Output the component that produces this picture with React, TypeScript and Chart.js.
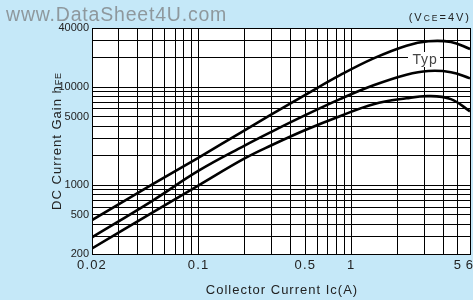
import React, { useEffect, useRef } from 'react';
import { Chart, registerables } from 'chart.js';

Chart.register(...registerables);

// Collector current Ic (A)
const currents = [0.02, 0.05, 0.1, 0.2, 0.3, 0.5, 0.85, 1.4, 2.3, 3.2, 4.5, 6];
// DC current gain hFE curves
const gainUpper = [443, 1030, 1920, 3630, 5270, 8340, 13300, 19600, 26400, 29300, 28800, 24500];
const gainTyp = [296, 700, 1410, 2540, 3510, 5180, 7590, 10440, 13380, 14600, 14200, 12300];
const gainLower = [228, 530, 1000, 1880, 2560, 3660, 5090, 6700, 7700, 8100, 7550, 5670];

// Axis grid values and labelled ticks
const xGridTicks = [
  0.02, 0.03, 0.04, 0.05, 0.06, 0.07, 0.08, 0.09,
  0.1, 0.2, 0.3, 0.4, 0.5, 0.6, 0.7, 0.8, 0.9,
  1, 2, 3, 4, 5, 6,
];
const xLabelTicks = [0.02, 0.1, 0.5, 1, 5, 6];
const yGridTicks = [
  200, 300, 400, 500, 600, 700, 800, 900,
  1000, 2000, 3000, 4000, 5000, 6000, 7000, 8000, 9000,
  10000, 20000, 30000, 40000,
];
const yLabelTicks = [200, 500, 1000, 5000, 10000, 40000];

const BG = 'rgb(197,232,248)';
const SANS = "'Liberation Sans', Arial, sans-serif";
const NARROW = "'Liberation Sans Narrow', 'Arial Narrow', 'Liberation Sans', sans-serif";

function drawSpaced(ctx: CanvasRenderingContext2D, text: string, x: number, y: number, spacing: number) {
  ctx.letterSpacing = spacing + 'px';
  ctx.fillText(text, x, y);
  return ctx.measureText(text).width;
}

const decorPlugin = {
  id: 'decor',
  beforeDraw(chart: any) {
    const { ctx, chartArea: a, width, height } = chart;
    ctx.save();
    ctx.fillStyle = BG;
    ctx.fillRect(0, 0, width, height);
    ctx.fillStyle = '#ffffff';
    ctx.fillRect(a.left, a.top, a.right - a.left, a.bottom - a.top);
    ctx.restore();
    ctx.letterSpacing = '0px';
  },
  afterDatasetsDraw(chart: any) {
    chart.ctx.letterSpacing = '1.2px';
  },
  afterDraw(chart: any) {
    const ctx: CanvasRenderingContext2D = chart.ctx;
    const a = chart.chartArea;
    ctx.save();
    // watermark
    ctx.fillStyle = '#8e989d';
    ctx.font = `19.5px ${SANS}`;
    ctx.textAlign = 'left';
    ctx.textBaseline = 'alphabetic';
    drawSpaced(ctx, 'www.DataSheet4U.com', 6, 21, 0.8);

    // (VCE=4V)
    ctx.fillStyle = '#222';
    const sp = 2;
    const parts: [string, number][] = [['(V', 11], ['CE', 8.5], ['=4V)', 11]];
    let total = 0;
    for (const [t, s] of parts) {
      ctx.font = `${s}px ${SANS}`;
      ctx.letterSpacing = sp + 'px';
      total += ctx.measureText(t).width;
    }
    let x = 471 - total;
    for (const [t, s] of parts) {
      ctx.font = `${s}px ${SANS}`;
      x += drawSpaced(ctx, t, x, 20.5, sp);
    }

    // Typ label
    ctx.fillStyle = '#ffffff';
    ctx.fillRect(408, 52, 32, 15);
    ctx.fillStyle = '#444';
    ctx.font = `14px ${SANS}`;
    ctx.textAlign = 'center';
    ctx.textBaseline = 'middle';
    drawSpaced(ctx, 'Typ', 425, 60, 0.8);

    // x axis title
    ctx.fillStyle = '#222';
    ctx.font = `13px ${SANS}`;
    ctx.textAlign = 'center';
    ctx.textBaseline = 'middle';
    drawSpaced(ctx, 'Collector Current Ic(A)', (a.left + a.right) / 2 + 1, 290, 1);

    // y axis title (rotated) with small FE
    ctx.translate(56, (a.top + a.bottom) / 2);
    ctx.rotate(-Math.PI / 2);
    ctx.textAlign = 'left';
    ctx.textBaseline = 'alphabetic';
    const mainT = 'DC Current Gain h';
    const subT = 'FE';
    ctx.font = `13px ${SANS}`;
    ctx.letterSpacing = '1px';
    const w1 = ctx.measureText(mainT).width;
    ctx.font = `9px ${SANS}`;
    ctx.letterSpacing = '0.8px';
    const w2 = ctx.measureText(subT).width;
    const start = -(w1 + w2) / 2;
    ctx.font = `13px ${SANS}`;
    drawSpaced(ctx, mainT, start, 4.5, 1);
    ctx.font = `9px ${SANS}`;
    drawSpaced(ctx, subT, start + w1, 4.5, 0.8);
    ctx.restore();
    ctx.letterSpacing = '0px';
  },
};

export default function App() {
  const ref = useRef<HTMLCanvasElement | null>(null);
  useEffect(() => {
    const canvas = ref.current;
    if (!canvas) return;
    const mk = (vals: number[]) => currents.map((x, i) => ({ x, y: vals[i] }));
    const lineStyle = {
      borderColor: '#000',
      borderWidth: 2.6,
      pointRadius: 0,
      tension: 0.4,
      fill: false,
    };
    const chart = new Chart(canvas, {
      type: 'line',
      data: {
        datasets: [
          { label: 'upper', data: mk(gainUpper), ...lineStyle },
          { label: 'Typ', data: mk(gainTyp), ...lineStyle },
          { label: 'lower', data: mk(gainLower), ...lineStyle },
        ],
      },
      options: {
        animation: false,
        responsive: false,
        devicePixelRatio: 1,
        layout: { padding: { left: 0, top: 28, right: 3, bottom: 0 } },
        plugins: {
          legend: { display: false },
          tooltip: { enabled: false },
          title: { display: false },
        },
        scales: {
          x: {
            type: 'logarithmic',
            min: 0.02,
            max: 6,
            afterBuildTicks: (scale: any) => {
              scale.ticks = xGridTicks.map((v) => ({ value: v }));
            },
            afterFit: (scale: any) => {
              scale.height = 46;
              scale.paddingLeft = 0;
              scale.paddingRight = 0;
            },
            grid: { color: '#000', lineWidth: 1, drawTicks: false },
            border: { display: true, color: '#000', width: 1 },
            ticks: {
              z: 1,
              autoSkip: false,
              maxRotation: 0,
              minRotation: 0,
              padding: 4,
              color: '#222',
              font: { family: SANS, size: 13 },
              callback: (v: any) => (xLabelTicks.includes(Number(v)) ? String(v) : ''),
            },
          },
          y: {
            type: 'logarithmic',
            min: 200,
            max: 40000,
            afterBuildTicks: (scale: any) => {
              scale.ticks = yGridTicks.map((v) => ({ value: v }));
            },
            afterFit: (scale: any) => {
              scale.width = 92;
              scale.paddingTop = 0;
              scale.paddingBottom = 0;
            },
            grid: { color: '#000', lineWidth: 1, drawTicks: false },
            border: { display: true, color: '#000', width: 1 },
            ticks: {
              autoSkip: false,
              padding: 3,
              color: '#222',
              font: { family: NARROW, size: 11 },
              callback: (v: any) => (yLabelTicks.includes(Number(v)) ? String(v) : ''),
            },
          },
        },
      },
      plugins: [decorPlugin],
    });
    return () => chart.destroy();
  }, []);
  return (
    <div style={{ position: 'fixed', left: 0, top: 0, width: 473, height: 300 }}>
      <canvas ref={ref} width={473} height={300} style={{ display: 'block', width: 473, height: 300 }} />
    </div>
  );
}
